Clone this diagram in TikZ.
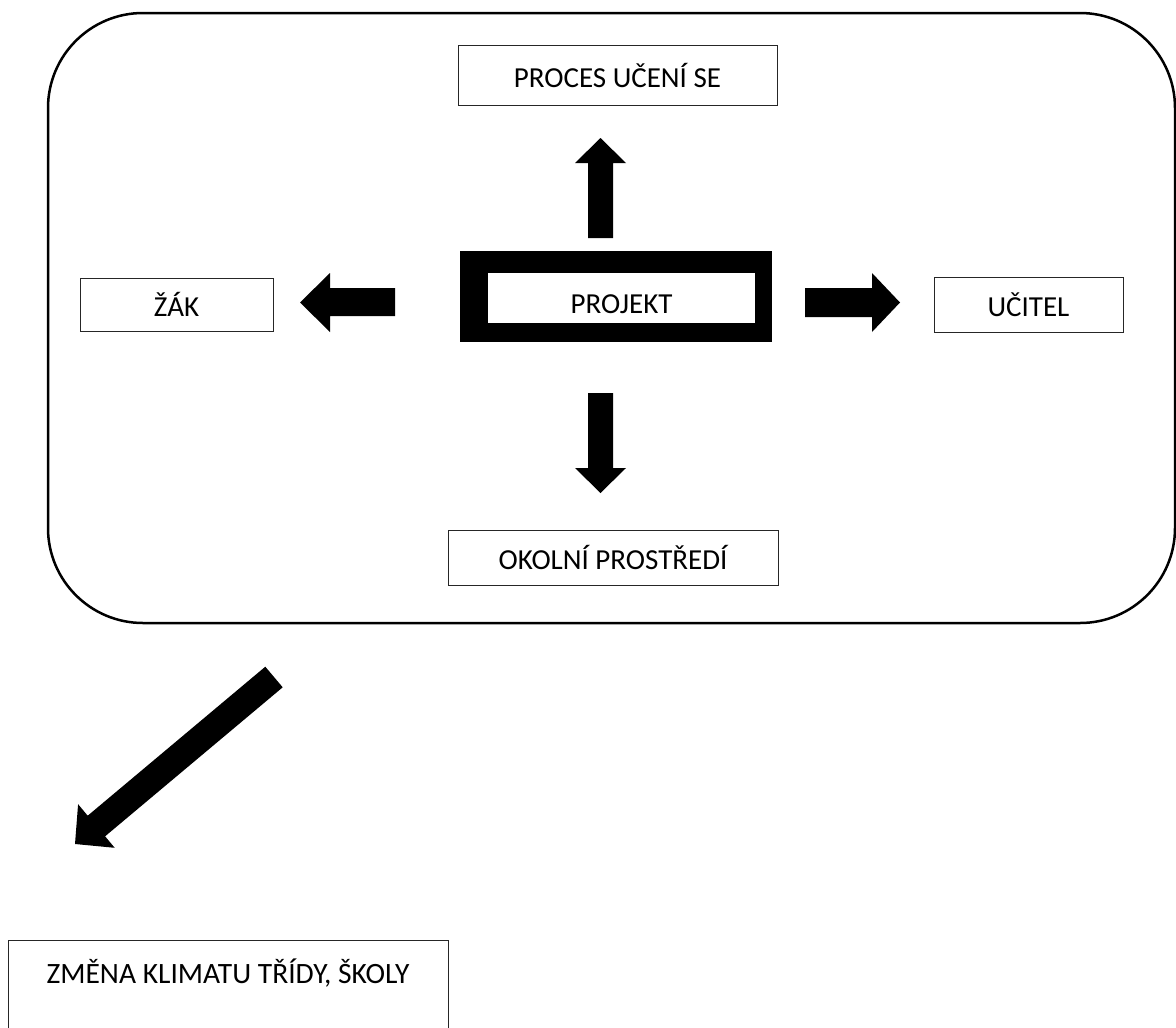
\documentclass[tikz,border=0pt]{standalone}
\usepackage{fontspec}
\setmainfont{Carlito}
\begin{document}
\begin{tikzpicture}[x=1pt,y=-1pt,
  box/.style={draw=black!85, line width=0.9pt, inner sep=0pt, font=\fontsize{29}{33}\selectfont},
  blockarrow/.style={fill=black},
  frame/.style={draw=black, line width=2.5pt, rounded corners=95pt}]
\clip (0,0) rectangle (1176,1028);
\fill[white] (0,0) rectangle (1176,1028);
% outer rounded frame
\draw[frame] (48,13) rectangle (1175,623);
% nodes
\node[box, minimum width=319pt, minimum height=60pt] (proces) at (617.5,75) {PROCES UČENÍ SE};
\node[box, minimum width=193pt, minimum height=53pt] (zak) at (176.5,304.5) {ŽÁK};
\node[box, minimum width=189pt, minimum height=55pt] (ucitel) at (1028.5,304.5) {UČITEL};
\node[box, minimum width=330pt, minimum height=55pt] (okolni) at (613,557.5) {OKOLNÍ PROSTŘEDÍ};
\fill[black] (460,251) rectangle (772,342);
\node[box, draw=none, fill=white, minimum width=267pt, minimum height=50pt, text height=20pt, text depth=6pt] (projekt) at (621.5,298) {\raisebox{-8pt}{PROJEKT}};
\node[box, minimum width=440pt, minimum height=130pt, anchor=north west] (zmena) at (8,940) {};
\node[font=\fontsize{29.5}{33}\selectfont, inner sep=0pt] (zmenatext) at (228,973) {ZMĚNA KLIMATU TŘÍDY, ŠKOLY};
% block arrows
\fill[blockarrow] (588,238) -- (613,238) -- (613,163) -- (626,163) -- (600.5,138) -- (575,163) -- (588,163) -- cycle;
\fill[blockarrow] (588,393) -- (613,393) -- (613,468) -- (626,468) -- (600.5,493) -- (575,468) -- (588,468) -- cycle;
\fill[blockarrow] (395,288) -- (395,316) -- (330,316) -- (330,332) -- (300,302.5) -- (330,273) -- (330,288) -- cycle;
\fill[blockarrow] (805,288) -- (805,317) -- (872,317) -- (872,332) -- (900,302.5) -- (872,273) -- (872,288) -- cycle;
\fill[blockarrow] (282.7,687.3) -- (265.3,666.7) -- (87.7,815.7) -- (78.1,804.2) -- (75,844) -- (114.7,847.8) -- (105.1,836.3) -- cycle;
\end{tikzpicture}
\end{document}
